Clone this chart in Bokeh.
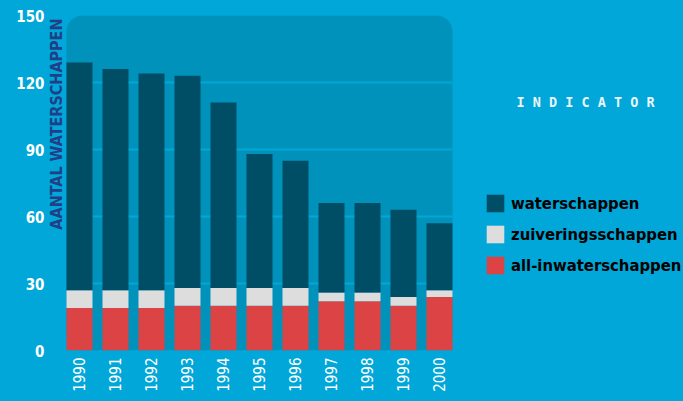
import math
from bokeh.plotting import figure
from bokeh.models import (ColumnDataSource, Range1d, FixedTicker, Legend, LegendItem,
                          Label, BoxAnnotation)
from bokeh.embed import file_html
from bokeh.resources import INLINE

years = ["1990", "1991", "1992", "1993", "1994", "1995", "1996", "1997", "1998", "1999", "2000"]
all_in = [19, 19, 19, 20, 20, 20, 20, 22, 22, 20, 24]
zuiverings = [8, 8, 8, 8, 8, 8, 8, 4, 4, 4, 3]
water = [102, 99, 97, 95, 83, 60, 57, 40, 40, 39, 30]
y_ticks = [0, 30, 60, 90, 120, 150]
grid_ticks = [30, 60, 90, 120]

BG = "#00A7D8"
PLOT = "#0092BA"
DARK = "#004D66"
LIGHT = "#DDDDDD"
RED = "#DC4345"
NAVY = "#213E86"
FONT = "DejaVu Sans Condensed"

XSTART = -0.861           # frame starts a little left of the rounded area
X0, X1 = -0.361, 10.361   # extent of the rounded plot area in category units
XEND = 16.778             # frame continues to the right edge (legend area)

src = ColumnDataSource(dict(x=list(range(len(years))), all_in=all_in,
                            zuiverings=zuiverings, water=water))

p = figure(width=683, height=401, output_backend="svg", toolbar_location=None,
           x_range=Range1d(XSTART, XEND), y_range=Range1d(0, 150),
           min_border_left=48, min_border_right=0, min_border_top=15,
           min_border_bottom=51)
p.background_fill_color = BG
p.border_fill_color = BG
p.outline_line_color = None
p.grid.visible = False
p.styles = {"background-color": BG}

box = BoxAnnotation(left=X0, right=X1, fill_color=PLOT, fill_alpha=1, line_color=None,
                    border_radius=16, level="image")
p.add_layout(box)

p.segment(x0=X0, x1=X1, y0=grid_ticks, y1=grid_ticks, line_color=BG, line_width=2,
          level="underlay")

rs = p.vbar_stack(["all_in", "zuiverings", "water"], x="x", width=0.722,
                  color=[RED, LIGHT, DARK], line_color=None, source=src)

for ax in (p.xaxis, p.yaxis):
    ax.axis_line_color = None
    ax.major_tick_line_color = None
    ax.minor_tick_line_color = None
    ax.major_tick_out = 0
    ax.major_tick_in = 0
    ax.minor_tick_out = 0
    ax.minor_tick_in = 0
    ax.major_label_text_color = "white"
    ax.major_label_text_font = FONT

p.yaxis.ticker = FixedTicker(ticks=y_ticks)
p.yaxis.major_label_text_font_style = "bold"
p.yaxis.major_label_text_font_size = "15px"
p.yaxis.major_label_standoff = 4

p.xaxis.ticker = FixedTicker(ticks=list(range(len(years))))
p.xaxis.major_label_overrides = {i: y for i, y in enumerate(years)}
p.xaxis.major_label_orientation = math.pi / 2
p.xaxis.major_label_text_font_size = "15px"
p.xaxis.major_label_standoff = 7

ytitle = Label(x=8, y=332, x_units="screen", y_units="screen",
               text="AANTAL WATERSCHAPPEN", angle=math.pi / 2,
               text_align="right", text_baseline="middle",
               text_color=NAVY, text_font=FONT, text_font_style="bold",
               text_font_size="16px")
p.add_layout(ytitle)

ind = Label(x=537, y=249, x_units="screen", y_units="screen",
            text="I N D I C A T O R", text_align="center", text_baseline="middle",
            text_color="#EAF6FB", text_font="DejaVu Sans Mono",
            text_font_style="bold", text_font_size="13.5px")
p.add_layout(ind)

legend = Legend(items=[LegendItem(label="waterschappen", renderers=[rs[2]]),
                       LegendItem(label="zuiveringsschappen", renderers=[rs[1]]),
                       LegendItem(label="all-inwaterschappen", renderers=[rs[0]])],
                location=(436, 74), glyph_width=22, glyph_height=22,
                label_height=22, label_standoff=5, spacing=9, padding=0, margin=0,
                border_line_color=None, background_fill_alpha=0,
                label_text_font=FONT, label_text_font_style="bold",
                label_text_font_size="16.5px", label_text_color="black")
p.add_layout(legend)

open("out.html", "w").write(file_html(p, INLINE))
